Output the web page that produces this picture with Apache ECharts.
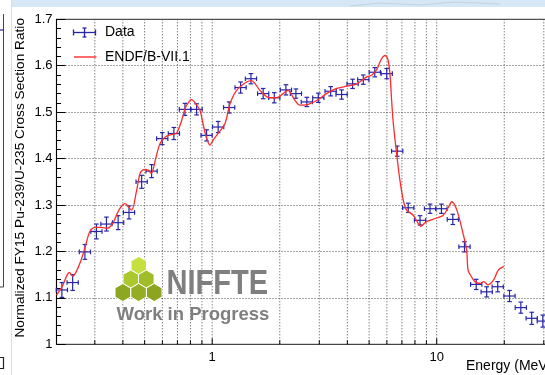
<!DOCTYPE html>
<html>
<head>
<meta charset="utf-8">
<script src="https://cdn.jsdelivr.net/npm/echarts@6/dist/echarts.min.js"></script>
<style>
  html, body { margin: 0; padding: 0; background: #fff; }
  #chart { width: 545px; height: 375px; }
</style>
</head>
<body>
<div id="chart"></div>
<script>
// Measured Pu-239/U-235 ratio: bin centre energies (MeV), ratio and statistical errors
const dataEnergy = [0.214, 0.239, 0.271, 0.305, 0.338, 0.381, 0.426, 0.485, 0.537, 0.599,
  0.675, 0.756, 0.852, 0.944, 1.063, 1.19, 1.338, 1.488, 1.687, 1.89,
  2.13, 2.36, 2.64, 2.97, 3.37, 3.77, 4.22, 4.71, 5.30, 5.99,
  6.67, 7.47, 8.43, 9.34, 10.5, 11.8, 13.3, 15.0, 16.7, 18.7,
  21.1, 23.7, 26.5, 29.7];
const dataRatio = [1.117, 1.133, 1.199, 1.243, 1.259, 1.262, 1.284, 1.350, 1.373, 1.443,
  1.454, 1.506, 1.506, 1.450, 1.468, 1.510, 1.553, 1.572, 1.540, 1.531,
  1.548, 1.540, 1.522, 1.531, 1.545, 1.538, 1.561, 1.570, 1.586, 1.583,
  1.416, 1.294, 1.267, 1.292, 1.292, 1.269, 1.210, 1.129, 1.113, 1.124,
  1.104, 1.079, 1.056, 1.050];
const dataError = [0.016, 0.017, 0.016, 0.016, 0.015, 0.015, 0.014, 0.014, 0.014, 0.013,
  0.013, 0.013, 0.012, 0.012, 0.012, 0.012, 0.012, 0.011, 0.011, 0.011,
  0.011, 0.010, 0.010, 0.010, 0.010, 0.010, 0.010, 0.010, 0.010, 0.011,
  0.011, 0.010, 0.010, 0.010, 0.010, 0.011, 0.011, 0.011, 0.011, 0.011,
  0.012, 0.012, 0.013, 0.013];
// half bin width in log10(E)
const binHalfLog = 0.025;

// ENDF/B-VII.1 evaluated ratio
const endfEnergy = [0.2025, 0.215, 0.225, 0.231, 0.239, 0.247, 0.26, 0.272, 0.285, 0.30,
  0.32, 0.34, 0.36, 0.385, 0.409, 0.437, 0.46, 0.477, 0.495, 0.519,
  0.535, 0.56, 0.585, 0.62, 0.66, 0.694, 0.731, 0.76, 0.795, 0.809,
  0.845, 0.882, 0.91, 0.94, 0.977, 1.01, 1.046, 1.139, 1.2, 1.285,
  1.423, 1.498, 1.56, 1.63, 1.776, 1.937, 2.07, 2.18, 2.26, 2.34,
  2.46, 2.68, 2.92, 3.23, 3.58, 3.97, 4.4, 4.88, 5.15, 5.41,
  5.68, 5.88, 6.05, 6.19, 6.3, 6.41, 6.63, 6.86, 7.1, 7.35,
  7.86, 8.28, 8.48, 9.0, 10.0, 10.7, 11.3, 11.67, 12.3, 13.1,
  13.6, 13.8, 14.3, 14.8, 15.6, 16.2, 16.9, 17.9, 18.8, 19.9];
const endfRatio = [1.106, 1.125, 1.148, 1.155, 1.147, 1.155, 1.18, 1.21, 1.243, 1.252,
  1.252, 1.25, 1.26, 1.29, 1.303, 1.289, 1.33, 1.368, 1.376, 1.375,
  1.368, 1.40, 1.432, 1.447, 1.452, 1.455, 1.482, 1.51, 1.525, 1.527,
  1.518, 1.504, 1.475, 1.447, 1.429, 1.44, 1.450, 1.475, 1.518, 1.547,
  1.565, 1.568, 1.560, 1.547, 1.532, 1.531, 1.540, 1.547, 1.537, 1.525,
  1.515, 1.517, 1.525, 1.540, 1.551, 1.556, 1.561, 1.576, 1.580, 1.592,
  1.615, 1.622, 1.615, 1.583, 1.525, 1.475, 1.411, 1.353, 1.310, 1.289,
  1.278, 1.260, 1.254, 1.264, 1.272, 1.278, 1.296, 1.307, 1.289, 1.239,
  1.203, 1.160, 1.145, 1.135, 1.131, 1.135, 1.128, 1.138, 1.160, 1.168];

// log-axis grid positions and labelled decades
const xGridTicks = [0.3, 0.4, 0.5, 0.6, 0.7, 0.8, 0.9, 1, 2, 3, 4, 5, 6, 7, 8, 9, 10, 20, 30, 40];
const xTickLabels = [1, 10];

const X_MIN = 0.2025, X_MAX = 42, Y_MIN = 1, Y_MAX = 1.7;
const FONT = 'Liberation Sans, Arial, Helvetica, sans-serif';
const BLUE = '#2626a6';
const RED = '#ff2b2b';

const chart = echarts.init(document.getElementById('chart'), null, { renderer: 'canvas' });

function hexPoints(cx, cy, r) {
  const pts = [];
  for (let k = 0; k < 6; k++) {
    const a = Math.PI / 180 * (60 * k - 90);
    pts.push([cx + r * Math.cos(a), cy + r * Math.sin(a)]);
  }
  return pts;
}

const hexes = [
  { c: [138.8, 265.5], fill: '#c6e13f' },
  { c: [130.8, 279.0], fill: '#abc82d' },
  { c: [146.3, 279.0], fill: '#a0bc28' },
  { c: [122.8, 292.5], fill: '#8ea722' },
  { c: [138.6, 292.5], fill: '#94ad23' },
  { c: [154.2, 292.5], fill: '#8ca420' }
];

const graphics = [
  // slide banner and neighbouring panel edge
  { type: 'rect', shape: { x: 11, y: 0, width: 534, height: 7 }, style: { fill: '#d6e8f5' }, z: 0 },
  { type: 'polyline', shape: { points: [[350, 6], [380, 3], [420, 5], [455, 2], [500, 4]] },
    style: { stroke: '#c2d4e0', lineWidth: 1, fill: null }, z: 0 },
  { type: 'line', shape: { x1: 11.5, y1: 0, x2: 11.5, y2: 375 }, style: { stroke: '#cfe2f0', lineWidth: 1 }, z: 0 },
  { type: 'line', shape: { x1: 3.5, y1: 14, x2: 3.5, y2: 287 }, style: { stroke: '#444', lineWidth: 1 }, z: 0 },
  { type: 'line', shape: { x1: 0, y1: 287, x2: 3.5, y2: 287 }, style: { stroke: '#444', lineWidth: 1 }, z: 0 },
  { type: 'line', shape: { x1: 0, y1: 30, x2: 3, y2: 30 }, style: { stroke: BLUE, lineWidth: 1.2 }, z: 0 },
  { type: 'polyline', shape: { points: [[0, 357.5], [3.5, 357.5], [3.5, 368.5], [0, 368.5]] },
    style: { stroke: '#222', lineWidth: 1.2, fill: null }, z: 0 },

  // y-axis title, aligned to the top of the axis
  { type: 'text', x: 20, y: 18, rotation: Math.PI / 2,
    style: { text: 'Normalized FY15 Pu-239/U-235 Cross Section Ratio', fontFamily: FONT, fontSize: 13.7,
      fill: '#000', align: 'right', verticalAlign: 'middle' }, z: 10 },
  // x-axis title
  { type: 'text', x: 466, y: 366.5,
    style: { text: 'Energy (MeV)', fontFamily: FONT, fontSize: 14, fill: '#000', align: 'left', verticalAlign: 'middle' }, z: 10 },

  // legend
  { type: 'line', shape: { x1: 73, y1: 32.5, x2: 96, y2: 32.5 }, style: { stroke: BLUE, lineWidth: 1.3 }, z: 10 },
  { type: 'line', shape: { x1: 73.5, y1: 29.5, x2: 73.5, y2: 35.5 }, style: { stroke: BLUE, lineWidth: 1.3 }, z: 10 },
  { type: 'line', shape: { x1: 95.5, y1: 29.5, x2: 95.5, y2: 35.5 }, style: { stroke: BLUE, lineWidth: 1.3 }, z: 10 },
  { type: 'line', shape: { x1: 84.5, y1: 28, x2: 84.5, y2: 37 }, style: { stroke: BLUE, lineWidth: 1.3 }, z: 10 },
  { type: 'line', shape: { x1: 82.5, y1: 28, x2: 86.5, y2: 28 }, style: { stroke: BLUE, lineWidth: 1.3 }, z: 10 },
  { type: 'line', shape: { x1: 82.5, y1: 37, x2: 86.5, y2: 37 }, style: { stroke: BLUE, lineWidth: 1.3 }, z: 10 },
  { type: 'text', x: 105, y: 32.5,
    style: { text: 'Data', fontFamily: FONT, fontSize: 14, fill: '#000', align: 'left', verticalAlign: 'middle' }, z: 10 },
  { type: 'line', shape: { x1: 74, y1: 57, x2: 96.5, y2: 57 }, style: { stroke: RED, lineWidth: 1.4 }, z: 10 },
  { type: 'text', x: 105, y: 57,
    style: { text: 'ENDF/B-VII.1', fontFamily: FONT, fontSize: 14, fill: '#000', align: 'left', verticalAlign: 'middle' }, z: 10 },

  // collaboration logo
  ...hexes.map(h => ({ type: 'polygon', shape: { points: hexPoints(h.c[0], h.c[1], 9) },
    style: { fill: h.fill, stroke: '#ffffff', lineWidth: 1 }, z: 5 })),
  { type: 'text', x: 166.5, y: 284.5, scaleX: 0.83,
    style: { text: 'NIFFTE', fontFamily: FONT, fontWeight: 'bold', fontSize: 35, fill: '#7f7f7f',
      align: 'left', verticalAlign: 'middle' }, z: 5 },
  { type: 'text', x: 116.5, y: 314.5,
    style: { text: 'Work in Progress', fontFamily: FONT, fontWeight: 'bold', fontSize: 18.5, fill: '#7f7f7f',
      align: 'left', verticalAlign: 'middle' }, z: 5 }
];

const option = {
  animation: false,
  backgroundColor: '#ffffff',
  grid: {
    left: 56.5, top: 19.3, height: 325, width: 520.1,
    outerBoundsMode: 'none',
    show: true, borderColor: '#555', borderWidth: 1.2, backgroundColor: 'transparent'
  },
  xAxis: {
    type: 'log', logBase: 10, min: X_MIN, max: X_MAX,
    axisLine: { show: true, onZero: false, lineStyle: { color: '#444', width: 1.2 } },
    axisTick: { show: false }, axisLabel: { show: false }, splitLine: { show: false }, minorTick: { show: false }
  },
  yAxis: {
    type: 'value', min: Y_MIN, max: Y_MAX, interval: 0.1,
    axisLine: { show: true, lineStyle: { color: '#000', width: 1 } },
    axisTick: { show: true, inside: true, length: 9, lineStyle: { color: '#000', width: 1 } },
    minorTick: { show: true, splitNumber: 5, length: 4.5, lineStyle: { color: '#000', width: 1 } },
    splitLine: { show: true, lineStyle: { color: '#4a4a4a', width: 1, type: [1, 2] } },
    axisLabel: { fontFamily: FONT, fontSize: 13, color: '#000', margin: 4 }
  },
  series: [
    {
      // vertical grid lines and inner ticks for the log energy axis
      type: 'custom', z: 1, silent: true, clip: false,
      data: xGridTicks.map(v => [v, Y_MIN]),
      renderItem: function (params, api) {
        const v = api.value(0);
        const top = api.coord([v, Y_MAX]);
        const bot = api.coord([v, Y_MIN]);
        const major = (v === 1 || v === 10);
        return {
          type: 'group', children: [
            { type: 'line', shape: { x1: bot[0], y1: bot[1], x2: top[0], y2: top[1] },
              style: { stroke: '#4a4a4a', lineWidth: 1, lineDash: [1, 2] } },
            { type: 'line', shape: { x1: bot[0], y1: bot[1], x2: bot[0], y2: bot[1] - (major ? 6 : 4) },
              style: { stroke: '#000', lineWidth: 1 } }
          ]
        };
      }
    },
    {
      // decade labels on the energy axis
      type: 'custom', z: 3, silent: true, clip: false,
      data: xTickLabels.map(v => [v, Y_MIN]),
      renderItem: function (params, api) {
        const v = api.value(0);
        const p = api.coord([v, Y_MIN]);
        return { type: 'text', x: p[0], y: p[1] + 13.5,
          style: { text: String(v), fontFamily: FONT, fontSize: 13, fill: '#000', align: 'center', verticalAlign: 'middle' } };
      }
    },
    {
      name: 'Data',
      type: 'custom', z: 4, clip: false,
      data: dataEnergy.map((e, i) => [e, dataRatio[i], dataError[i]]),
      renderItem: function (params, api) {
        const e = api.value(0), r = api.value(1), er = api.value(2);
        const lo = e * Math.pow(10, -binHalfLog), hi = e * Math.pow(10, binHalfLog);
        const c = api.coord([e, r]);
        const pl = api.coord([lo, r]), ph = api.coord([hi, r]);
        const pt = api.coord([e, r + er]), pb = api.coord([e, r - er]);
        const st = { stroke: BLUE, lineWidth: 1.2 };
        const cap = 2.3;
        return {
          type: 'group', children: [
            { type: 'line', shape: { x1: pl[0], y1: c[1], x2: ph[0], y2: c[1] }, style: st },
            { type: 'line', shape: { x1: pl[0], y1: c[1] - cap, x2: pl[0], y2: c[1] + cap }, style: st },
            { type: 'line', shape: { x1: ph[0], y1: c[1] - cap, x2: ph[0], y2: c[1] + cap }, style: st },
            { type: 'line', shape: { x1: c[0], y1: pt[1], x2: c[0], y2: pb[1] }, style: st },
            { type: 'line', shape: { x1: c[0] - cap, y1: pt[1], x2: c[0] + cap, y2: pt[1] }, style: st },
            { type: 'line', shape: { x1: c[0] - cap, y1: pb[1], x2: c[0] + cap, y2: pb[1] }, style: st }
          ]
        };
      }
    },
    {
      name: 'ENDF/B-VII.1',
      type: 'line', z: 5,
      data: endfEnergy.map((e, i) => [e, endfRatio[i]]),
      showSymbol: false, symbol: 'none', smooth: 0.3,
      lineStyle: { color: RED, width: 1.3 }
    }
  ],
  graphic: graphics
};

chart.setOption(option);
</script>
</body>
</html>
